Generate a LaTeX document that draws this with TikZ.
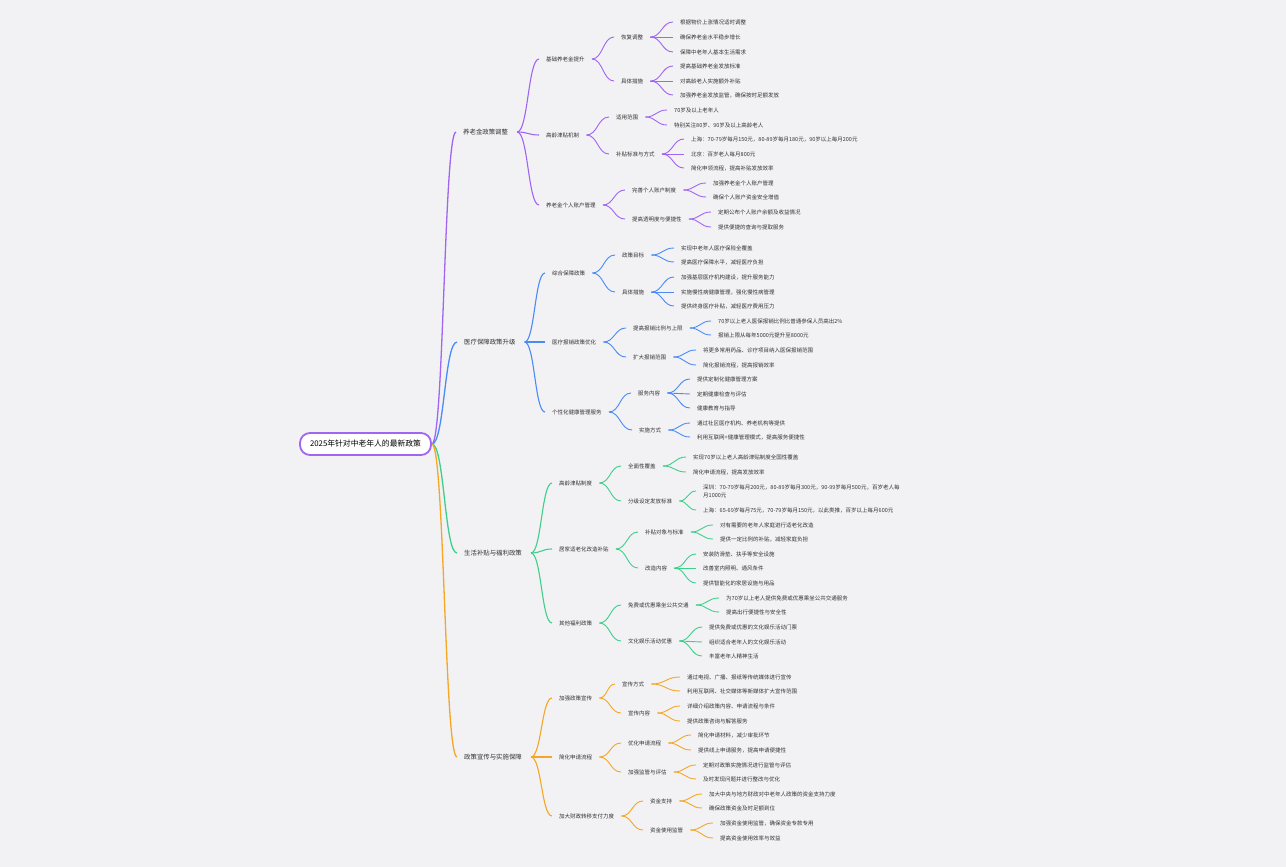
\documentclass[tikz,border=0pt]{standalone}
\usepackage{fontspec}
\setmainfont{Noto Sans CJK SC}
\usetikzlibrary{calc}
\definecolor{bg}{HTML}{F2F2F5}
\definecolor{txt}{HTML}{333333}
\definecolor{cpurple}{HTML}{A066F2}
\definecolor{cblue}{HTML}{4A8BF5}
\definecolor{cgreen}{HTML}{3ECF8A}
\definecolor{corange}{HTML}{F5A623}
\newcommand\conn[3][7pt]{\draw let \p1=([xshift=#1]#2.east), \p2=([xshift=-7pt]#3.west), \n1={0.5*(\x2-\x1)} in (\p1) .. controls +(\n1,0) and +(-\n1,0) .. (\p2);}
\tikzset{
  lab/.style={anchor=west, inner sep=0pt, text=txt, font=\fontsize{5.5}{7}\selectfont},
  lvlone/.style={anchor=west, inner sep=0pt, text=txt, font=\fontsize{6.4}{8}\selectfont},
  rootbox/.style={draw=cpurple, line width=1.8pt, fill=white, rounded corners=10pt, minimum width=131pt, minimum height=22pt, inner sep=0pt, text=black, font=\fontsize{7.8}{9}\selectfont},
  wline/.style={line width=1.3pt},
  mline/.style={line width=1.1pt},
  tline/.style={line width=0.9pt},
}
\begin{document}
\begin{tikzpicture}[x=1pt,y=-1pt]
\path[fill=bg] (0,0) rectangle (1286,867);
\node[rootbox] (R) at (365.5,444) {2025年针对中老年人的最新政策};
% level 1
\node[lvlone] (A) at (463,132) {养老金政策调整};
\node[lvlone] (B) at (464,342) {医疗保障政策升级};
\node[lvlone] (C) at (464,553) {生活补贴与福利政策};
\node[lvlone] (D) at (464,757) {政策宣传与实施保障};
% purple
\node[lab] (A1) at (546,59) {基础养老金提升};
\node[lab] (A2) at (546,135) {高龄津贴机制};
\node[lab] (A3) at (546,205) {养老金个人账户管理};
\node[lab] (A1a) at (621,37) {恢复调整};
\node[lab] (A1b) at (621,81) {具体措施};
\node[lab] (A2a) at (616,117) {适用范围};
\node[lab] (A2b) at (616,154) {补贴标准与方式};
\node[lab] (A3a) at (632,190) {完善个人账户制度};
\node[lab] (A3b) at (632,219) {提高透明度与便捷性};
\node[lab] (A1a1) at (680,22) {根据物价上涨情况适时调整};
\node[lab] (A1a2) at (680,37) {确保养老金水平稳步增长};
\node[lab] (A1a3) at (680,52) {保障中老年人基本生活需求};
\node[lab] (A1b1) at (680,66) {提高基础养老金发放标准};
\node[lab] (A1b2) at (680,81) {对高龄老人实施额外补贴};
\node[lab] (A1b3) at (680,95) {加强养老金发放监管，确保按时足额发放};
\node[lab] (A2a1) at (674,110) {70岁及以上老年人};
\node[lab] (A2a2) at (674,125) {特别关注80岁、90岁及以上高龄老人};
\node[lab] (A2b1) at (691,139) {上海：70-79岁每月150元，80-89岁每月180元，90岁以上每月200元};
\node[lab] (A2b2) at (691,154) {北京：百岁老人每月800元};
\node[lab] (A2b3) at (691,168) {简化申领流程，提高补贴发放效率};
\node[lab] (A3a1) at (713,183) {加强养老金个人账户管理};
\node[lab] (A3a2) at (713,197) {确保个人账户资金安全增值};
\node[lab] (A3b1) at (718,212) {定期公布个人账户余额及收益情况};
\node[lab] (A3b2) at (718,227) {提供便捷的查询与提取服务};
% blue
\node[lab] (B1) at (552,273) {综合保障政策};
\node[lab] (B2) at (552,342) {医疗报销政策优化};
\node[lab] (B3) at (552,412) {个性化健康管理服务};
\node[lab] (B1a) at (622,255) {政策目标};
\node[lab] (B1b) at (622,292) {具体措施};
\node[lab] (B2a) at (633,328) {提高报销比例与上限};
\node[lab] (B2b) at (633,357) {扩大报销范围};
\node[lab] (B3a) at (638,393) {服务内容};
\node[lab] (B3b) at (639,430) {实施方式};
\node[lab] (B1a1) at (681,248) {实现中老年人医疗保险全覆盖};
\node[lab] (B1a2) at (681,262) {提高医疗保障水平，减轻医疗负担};
\node[lab] (B1b1) at (681,277) {加强基层医疗机构建设，提升服务能力};
\node[lab] (B1b2) at (681,292) {实施慢性病健康管理，强化慢性病管理};
\node[lab] (B1b3) at (681,306) {提供终身医疗补贴，减轻医疗费用压力};
\node[lab] (B2a1) at (718,321) {70岁以上老人医保报销比例比普通参保人员高出2\%};
\node[lab] (B2a2) at (718,335) {报销上限从每年5000元提升至8000元};
\node[lab] (B2b1) at (703,350) {将更多常用药品、诊疗项目纳入医保报销范围};
\node[lab] (B2b2) at (703,365) {简化报销流程，提高报销效率};
\node[lab] (B3a1) at (697,379) {提供定制化健康管理方案};
\node[lab] (B3a2) at (697,394) {定期健康检查与评估};
\node[lab] (B3a3) at (697,408) {健康教育与指导};
\node[lab] (B3b1) at (697,423) {通过社区医疗机构、养老机构等提供};
\node[lab] (B3b2) at (697,437) {利用互联网+健康管理模式，提高服务便捷性};
% green
\node[lab] (C1) at (559,483) {高龄津贴制度};
\node[lab] (C2) at (559,549) {居家适老化改造补贴};
\node[lab] (C3) at (559,623) {其他福利政策};
\node[lab] (C1a) at (628,466) {全面性覆盖};
\node[lab] (C1b) at (628,501) {分级设定发放标准};
\node[lab] (C2a) at (645,532) {补贴对象与标准};
\node[lab] (C2b) at (645,568) {改造内容};
\node[lab] (C3a) at (628,605) {免费或优惠乘坐公共交通};
\node[lab] (C3b) at (628,641) {文化娱乐活动优惠};
\node[lab] (C1a1) at (693,457) {实现70岁以上老人高龄津贴制度全国性覆盖};
\node[lab] (C1a2) at (693,472) {简化申请流程，提高发放效率};
\node[lab, align=left, font=\fontsize{5.5}{8}\selectfont] (C1b1) at (703,491) {深圳：70-79岁每月200元，80-89岁每月300元，90-99岁每月500元，百岁老人每\\月1000元};
\node[lab] (C1b2) at (703,510) {上海：65-69岁每月75元，70-79岁每月150元，以此类推，百岁以上每月600元};
\node[lab] (C2a1) at (720,525) {对有需要的老年人家庭进行适老化改造};
\node[lab] (C2a2) at (720,539) {提供一定比例的补贴，减轻家庭负担};
\node[lab] (C2b1) at (703,554) {安装防滑垫、扶手等安全设施};
\node[lab] (C2b2) at (703,568) {改善室内照明、通风条件};
\node[lab] (C2b3) at (703,583) {提供智能化的家居设施与用品};
\node[lab] (C3a1) at (726,598) {为70岁以上老人提供免费或优惠乘坐公共交通服务};
\node[lab] (C3a2) at (726,612) {提高出行便捷性与安全性};
\node[lab] (C3b1) at (709,627) {提供免费或优惠的文化娱乐活动门票};
\node[lab] (C3b2) at (709,642) {组织适合老年人的文化娱乐活动};
\node[lab] (C3b3) at (709,656) {丰富老年人精神生活};
% orange
\node[lab] (D1) at (559,698) {加强政策宣传};
\node[lab] (D2) at (559,757) {简化申请流程};
\node[lab] (D3) at (559,816) {加大财政转移支付力度};
\node[lab] (D1a) at (622,684) {宣传方式};
\node[lab] (D1b) at (628,713) {宣传内容};
\node[lab] (D2a) at (628,743) {优化申请流程};
\node[lab] (D2b) at (628,772) {加强监管与评估};
\node[lab] (D3a) at (650,801) {资金支持};
\node[lab] (D3b) at (650,830) {资金使用监管};
\node[lab] (D1a1) at (687,677) {通过电视、广播、报纸等传统媒体进行宣传};
\node[lab] (D1a2) at (687,691) {利用互联网、社交媒体等新媒体扩大宣传范围};
\node[lab] (D1b1) at (687,706) {详细介绍政策内容、申请流程与条件};
\node[lab] (D1b2) at (687,721) {提供政策咨询与解答服务};
\node[lab] (D2a1) at (698,735) {简化申请材料，减少审批环节};
\node[lab] (D2a2) at (698,750) {提供线上申请服务，提高申请便捷性};
\node[lab] (D2b1) at (703,765) {定期对政策实施情况进行监管与评估};
\node[lab] (D2b2) at (703,779) {及时发现问题并进行整改与优化};
\node[lab] (D3a1) at (709,794) {加大中央与地方财政对中老年人政策的资金支持力度};
\node[lab] (D3a2) at (709,808) {确保政策资金及时足额到位};
\node[lab] (D3b1) at (720,823) {加强资金使用监管，确保资金专款专用};
\node[lab] (D3b2) at (720,838) {提高资金使用效率与效益};
% connectors
\begin{scope}[draw=cpurple]
  \begin{scope}[wline]\conn[0pt]{R}{A}\end{scope}
  \begin{scope}[mline]\conn[9pt]{A}{A1}\conn[9pt]{A}{A2}\conn[9pt]{A}{A3}\end{scope}
  \begin{scope}[tline]
  \conn{A1}{A1a}\conn{A1}{A1b}\conn{A2}{A2a}\conn{A2}{A2b}\conn{A3}{A3a}\conn{A3}{A3b}
  \conn{A1a}{A1a1}\conn{A1a}{A1a2}\conn{A1a}{A1a3}\conn{A1b}{A1b1}\conn{A1b}{A1b2}\conn{A1b}{A1b3}
  \conn{A2a}{A2a1}\conn{A2a}{A2a2}\conn{A2b}{A2b1}\conn{A2b}{A2b2}\conn{A2b}{A2b3}
  \conn{A3a}{A3a1}\conn{A3a}{A3a2}\conn{A3b}{A3b1}\conn{A3b}{A3b2}
  \end{scope}
\end{scope}
\begin{scope}[draw=cblue]
  \begin{scope}[wline]\conn[0pt]{R}{B}\end{scope}
  \begin{scope}[mline]\conn[9pt]{B}{B1}\conn[9pt]{B}{B2}\conn[9pt]{B}{B3}\end{scope}
  \begin{scope}[tline]
  \conn{B1}{B1a}\conn{B1}{B1b}\conn{B2}{B2a}\conn{B2}{B2b}\conn{B3}{B3a}\conn{B3}{B3b}
  \conn{B1a}{B1a1}\conn{B1a}{B1a2}\conn{B1b}{B1b1}\conn{B1b}{B1b2}\conn{B1b}{B1b3}
  \conn{B2a}{B2a1}\conn{B2a}{B2a2}\conn{B2b}{B2b1}\conn{B2b}{B2b2}
  \conn{B3a}{B3a1}\conn{B3a}{B3a2}\conn{B3a}{B3a3}\conn{B3b}{B3b1}\conn{B3b}{B3b2}
  \end{scope}
\end{scope}
\begin{scope}[draw=cgreen]
  \begin{scope}[wline]\conn[0pt]{R}{C}\end{scope}
  \begin{scope}[mline]\conn[9pt]{C}{C1}\conn[9pt]{C}{C2}\conn[9pt]{C}{C3}\end{scope}
  \begin{scope}[tline]
  \conn{C1}{C1a}\conn{C1}{C1b}\conn{C2}{C2a}\conn{C2}{C2b}\conn{C3}{C3a}\conn{C3}{C3b}
  \conn{C1a}{C1a1}\conn{C1a}{C1a2}\conn{C1b}{C1b1}\conn{C1b}{C1b2}
  \conn{C2a}{C2a1}\conn{C2a}{C2a2}\conn{C2b}{C2b1}\conn{C2b}{C2b2}\conn{C2b}{C2b3}
  \conn{C3a}{C3a1}\conn{C3a}{C3a2}\conn{C3b}{C3b1}\conn{C3b}{C3b2}\conn{C3b}{C3b3}
  \end{scope}
\end{scope}
\begin{scope}[draw=corange]
  \begin{scope}[wline]\conn[0pt]{R}{D}\end{scope}
  \begin{scope}[mline]\conn[9pt]{D}{D1}\conn[9pt]{D}{D2}\conn[9pt]{D}{D3}\end{scope}
  \begin{scope}[tline]
  \conn{D1}{D1a}\conn{D1}{D1b}\conn{D2}{D2a}\conn{D2}{D2b}\conn{D3}{D3a}\conn{D3}{D3b}
  \conn{D1a}{D1a1}\conn{D1a}{D1a2}\conn{D1b}{D1b1}\conn{D1b}{D1b2}
  \conn{D2a}{D2a1}\conn{D2a}{D2a2}\conn{D2b}{D2b1}\conn{D2b}{D2b2}
  \conn{D3a}{D3a1}\conn{D3a}{D3a2}\conn{D3b}{D3b1}\conn{D3b}{D3b2}
  \end{scope}
\end{scope}
\end{tikzpicture}
\end{document}
